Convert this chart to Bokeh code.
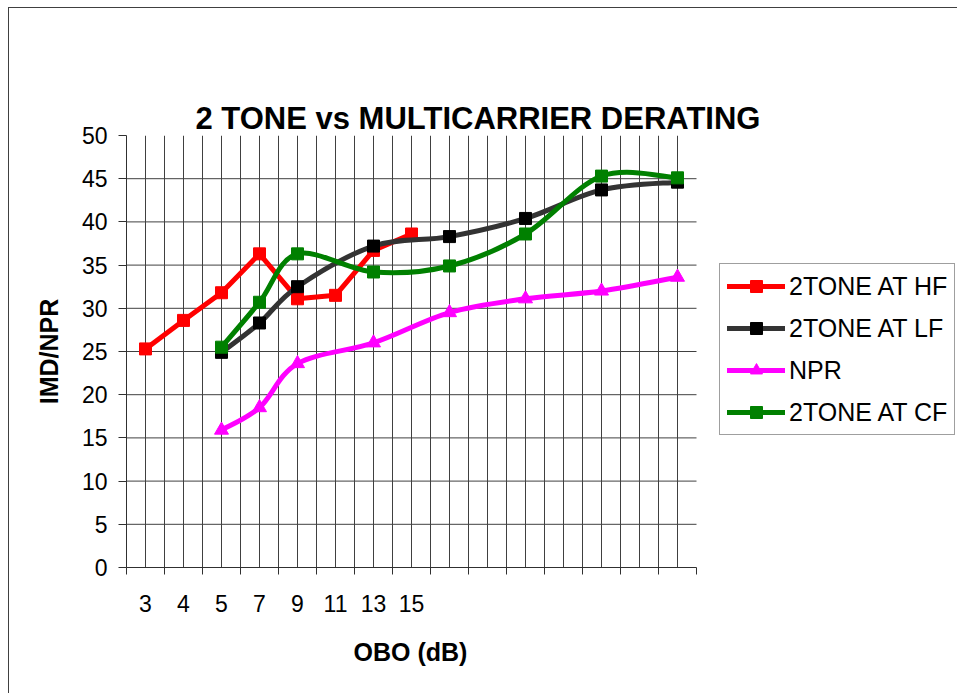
from bokeh.plotting import figure
from bokeh.models import FixedTicker, Legend, LegendItem, ColumnDataSource, Range1d, Title
from bokeh.embed import file_html
from bokeh.resources import INLINE

# ---- data ----
categories = ["3", "4", "5", "7", "9", "11", "13", "15", "", "", "", "", "", "", ""]
hf_values = [25.3, 28.6, 31.8, 36.3, 31.1, 31.5, 36.7, 38.6, None, None, None, None, None, None, None]
lf_values = [None, None, 24.9, 28.3, 32.5, None, 37.2, None, 38.3, None, 40.4, None, 43.7, None, 44.6]
npr_values = [None, None, 15.9, 18.5, 23.6, None, 26.0, None, 29.5, None, 31.1, None, 32.0, None, 33.6]
cf_values = [None, None, 25.5, 30.7, 36.3, None, 34.2, None, 34.9, None, 38.6, None, 45.3, None, 45.1]
series_names = ["2TONE AT HF", "2TONE AT LF", "NPR", "2TONE AT CF"]
y_ticks = [0, 5, 10, 15, 20, 25, 30, 35, 40, 45, 50]
chart_title = "2 TONE vs MULTICARRIER DERATING"
x_title_text = "OBO (dB)"
y_title_text = "IMD/NPR"

FONT = "Liberation Sans"
n_cat = len(categories)
NAN = float("nan")

# layout geometry (pixels)
FIG_W, FIG_H = 949, 686
LEFT, TOP, BOTTOM = 117, 127, 127
PLOT_W = 570                      # width of the category plot area
FRAME_W = FIG_W - LEFT            # frame also hosts the legend on the right
x_max = n_cat * FRAME_W / PLOT_W


def points(vals):
    xs = [i + 0.5 for i, v in enumerate(vals) if v is not None]
    ys = [v for v in vals if v is not None]
    return xs, ys


def smooth_source(vals):
    xs, ys = points(vals)
    n = len(xs)
    d = dict(x0=[], y0=[], x1=[], y1=[], cx0=[], cy0=[], cx1=[], cy1=[])
    for i in range(n - 1):
        a = max(i - 1, 0)
        b = min(i + 2, n - 1)
        d["x0"].append(xs[i]); d["y0"].append(ys[i])
        d["x1"].append(xs[i + 1]); d["y1"].append(ys[i + 1])
        d["cx0"].append(xs[i] + (xs[i + 1] - xs[a]) / 6.0)
        d["cy0"].append(ys[i] + (ys[i + 1] - ys[a]) / 6.0)
        d["cx1"].append(xs[i + 1] - (xs[b] - xs[i]) / 6.0)
        d["cy1"].append(ys[i + 1] - (ys[b] - ys[i]) / 6.0)
    return ColumnDataSource(d)


p = figure(width=FIG_W, height=FIG_H, x_range=Range1d(0, x_max), y_range=Range1d(0, 50),
           output_backend="svg", toolbar_location=None,
           min_border_left=LEFT, min_border_right=0, min_border_top=TOP, min_border_bottom=BOTTOM)
p.styles = {"margin-left": "8px", "margin-top": "7px",
            "border-left": "1px solid #404040", "border-top": "1px solid #404040"}
p.outline_line_color = None
p.background_fill_color = "white"
p.border_fill_color = "white"

# main x axis (below)
xa = p.below[0]
xa.bounds = (0, n_cat)
xa.ticker = FixedTicker(ticks=[i + 0.5 for i in range(n_cat)], minor_ticks=[float(i) for i in range(n_cat + 1)])
xa.major_label_overrides = {i + 0.5: categories[i] for i in range(n_cat)}
xa.major_tick_line_color = None
xa.major_tick_out = 6
xa.major_tick_in = 0
xa.minor_tick_out = 7
xa.minor_tick_in = 0
xa.minor_tick_line_color = "#303030"
xa.axis_line_color = "#303030"
xa.major_label_text_font = FONT
xa.major_label_text_font_size = "23px"
xa.major_label_text_color = "black"
xa.major_label_standoff = 20

# chart title, then an invisible spacer between it and the plot area
main_title = Title(text=chart_title, align="left", offset=69, standoff=0, vertical_align="bottom",
                   text_font=FONT, text_font_size="31px", text_font_style="bold", text_color="black")
p.add_layout(main_title, "above")
spacer = Title(text=".", text_font_size="10px", text_alpha=0, standoff=56, vertical_align="bottom")
p.add_layout(spacer, "above")

# x axis title, centred on the category area
x_title = Title(text=x_title_text, align="left", offset=227, standoff=46, vertical_align="top",
                text_font=FONT, text_font_size="25px", text_font_style="bold", text_color="black")
p.add_layout(x_title, "below")

# y axis
ya = p.left[0]
ya.ticker = FixedTicker(ticks=y_ticks)
ya.major_tick_out = 8
ya.major_tick_in = 0
ya.minor_tick_line_color = None
ya.major_tick_line_color = "#303030"
ya.axis_line_color = "#303030"
ya.major_label_text_font = FONT
ya.major_label_text_font_size = "23px"
ya.major_label_text_color = "black"
ya.major_label_standoff = 11
ya.axis_label = y_title_text
ya.axis_label_text_font = FONT
ya.axis_label_text_font_size = "25px"
ya.axis_label_text_font_style = "bold"
ya.axis_label_text_color = "black"
ya.axis_label_standoff = 16

# grids: vertical from the grid model, horizontal limited to the category area
p.xgrid.ticker = FixedTicker(ticks=[i * 0.5 for i in range(1, 2 * n_cat)])
p.xgrid.grid_line_color = "#404040"
p.xgrid.grid_line_width = 1
p.ygrid.grid_line_color = None
hticks = y_ticks[1:-1]
p.segment(x0=[0] * len(hticks), x1=[n_cat] * len(hticks), y0=hticks, y1=hticks,
          line_color="#404040", line_width=1)

items = []

# 2TONE AT HF (straight segments)
hx, hy = points(hf_values)
r_hf_line = p.line(hx, hy, line_color="#FF0000", line_width=5, line_join="round", line_cap="round")
r_hf_mark = p.scatter(hx, hy, marker="square", size=12, fill_color="#FF0000", line_color="#FF0000")
items.append(LegendItem(label=series_names[0], renderers=[r_hf_line, r_hf_mark]))

specs = [
    (lf_values, "#333333", "#000000", "square", 12, series_names[1]),
    (npr_values, "#FF00FF", "#FF00FF", "triangle", 14, series_names[2]),
    (cf_values, "#008000", "#008000", "square", 12, series_names[3]),
]
for vals, lcol, mcol, marker, msize, name in specs:
    src = smooth_source(vals)
    p.bezier(x0="x0", y0="y0", x1="x1", y1="y1", cx0="cx0", cy0="cy0", cx1="cx1", cy1="cy1",
             source=src, line_color=lcol, line_width=5, line_cap="round")
    xs, ys = points(vals)
    r_proxy = p.line(x=[NAN], y=[NAN], line_color=lcol, line_width=5, line_cap="round")
    r_mark = p.scatter(xs, ys, marker=marker, size=msize, fill_color=mcol, line_color=mcol)
    items.append(LegendItem(label=name, renderers=[r_proxy, r_mark]))

legend = Legend(items=items, location=(PLOT_W + 23, 132), orientation="vertical")
legend.label_text_font = FONT
legend.label_text_font_size = "25px"
legend.label_text_color = "black"
legend.glyph_width = 58
legend.glyph_height = 30
legend.label_height = 30
legend.label_standoff = 4
legend.spacing = 12
legend.padding = 7
legend.margin = 0
legend.border_line_color = "#404040"
legend.border_line_width = 1.5
legend.background_fill_color = "white"
legend.background_fill_alpha = 1
p.add_layout(legend, "center")

open("out.html", "w").write(file_html(p, INLINE))
